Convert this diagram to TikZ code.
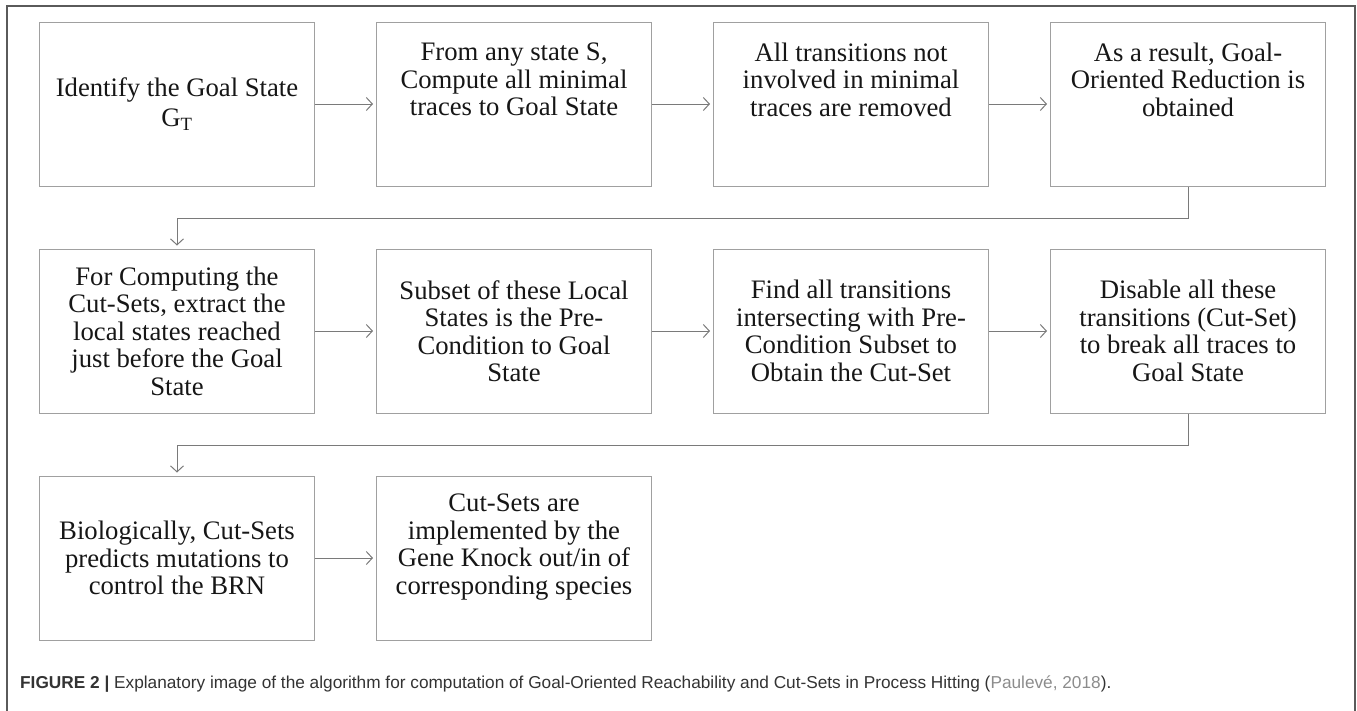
\documentclass[tikz,border=0pt]{standalone}
\usepackage{fontspec}
\setmainfont{Liberation Serif}
\newfontfamily\capfont{Liberation Sans}
\usetikzlibrary{arrows.meta}

\definecolor{boxline}{HTML}{A0A0A0}
\definecolor{flowline}{HTML}{7A7A7A}
\definecolor{framecol}{HTML}{5A5A5A}
\definecolor{bodytext}{HTML}{161616}
\definecolor{captext}{HTML}{333333}
\definecolor{citegray}{HTML}{8C8C8C}

\tikzset{
  stepbox/.style={draw=boxline, line width=1pt, minimum width=275pt,
    minimum height=164pt, inner sep=0pt, align=center, text=bodytext,
    font=\fontsize{26.7}{27.5}\selectfont},
  flow/.style={draw=flowline, line width=1pt,
    -{Straight Barb[length=6pt,width=13pt]}, shorten >=3pt},
}

\begin{document}
\begin{tikzpicture}[x=1pt,y=-1pt]
  \useasboundingbox (0,0) rectangle (1357,710);
  \clip (0,0) rectangle (1357,710);

  % outer frame (open at the bottom edge of the page)
  \draw[framecol, line width=1.6pt] (7,720) -- (7,6) -- (1355,6) -- (1355,720);

  % first row
  \node[stepbox] (b1) at (177,104)  {Identify the Goal State\\[3pt]G\textsubscript{T}};
  \node[stepbox] (b2) at (514,104)  {From any state S,\\Compute all minimal\\traces to Goal State\\[22pt]\mbox{}};
  \node[stepbox] (b3) at (851,104)  {All transitions not\\involved in minimal\\traces are removed\\[22pt]\mbox{}};
  \node[stepbox] (b4) at (1188,104) {As a result, Goal-\\Oriented Reduction is\\obtained\\[22pt]\mbox{}};

  % second row
  \node[stepbox] (b5) at (177,331)  {For Computing the\\Cut-Sets, extract the\\local states reached\\just before the Goal\\State};
  \node[stepbox] (b6) at (514,331)  {Subset of these Local\\States is the Pre-\\Condition to Goal\\State};
  \node[stepbox] (b7) at (851,331)  {Find all transitions\\intersecting with Pre-\\Condition Subset to\\Obtain the Cut-Set};
  \node[stepbox] (b8) at (1188,331) {Disable all these\\transitions (Cut-Set)\\to break all traces to\\Goal State};

  % third row
  \node[stepbox] (b9)  at (177,558) {Biologically, Cut-Sets\\predicts mutations to\\control the BRN};
  \node[stepbox] (b10) at (514,558) {Cut-Sets are\\implemented by the\\Gene Knock out/in of\\corresponding species\\[0.5pt]\mbox{}};

  % connectors
  \draw[flow] (b1) -- (b2);
  \draw[flow] (b2) -- (b3);
  \draw[flow] (b3) -- (b4);
  \draw[flow] (b4.south) -- ++(0,32) -| (b5.north);
  \draw[flow] (b5) -- (b6);
  \draw[flow] (b6) -- (b7);
  \draw[flow] (b7) -- (b8);
  \draw[flow] (b8.south) -- ++(0,32) -| (b9.north);
  \draw[flow] (b9) -- (b10);

  % caption
  \node[anchor=base west, inner sep=0pt, text=captext,
        font=\capfont\fontsize{17.25}{20}\selectfont] (cap) at (20,688)
    {\textbf{FIGURE 2 |} Explanatory image of the algorithm for computation of Goal-Oriented Reachability and Cut-Sets in Process Hitting ({\color{citegray}Paulevé, 2018}).};
\end{tikzpicture}
\end{document}
